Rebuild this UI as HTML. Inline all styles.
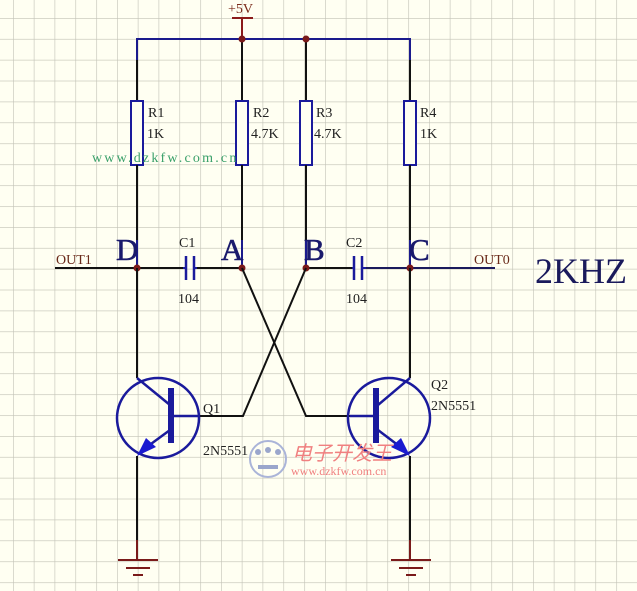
<!DOCTYPE html>
<html><head><meta charset="utf-8"><style>
html,body{margin:0;padding:0;background:#fffff2;}
svg{display:block;}
text{font-family:"Liberation Serif",serif;}
</style></head><body>
<svg width="637" height="591" viewBox="0 0 637 591" xmlns="http://www.w3.org/2000/svg">
<defs>
<pattern id="g" x="13" y="18" width="20.8" height="20.9" patternUnits="userSpaceOnUse">
<path d="M0 0 V21 M0 0 H21" stroke="#c2c2b6" stroke-width="1.2" fill="none"/>
</pattern>
</defs>
<rect width="637" height="591" fill="#fffff2"/>
<rect width="637" height="591" fill="url(#g)"/>

<text x="228" y="13" font-size="14" fill="#7a2a1a">+5V</text>
<line x1="232" y1="18" x2="253" y2="18" stroke="#8b1a1a" stroke-width="2"/>
<line x1="242" y1="18" x2="242" y2="39" stroke="#8b1a1a" stroke-width="2"/>
<polyline points="137,101 137,39 410,39 410,101" fill="none" stroke="#1a1a8c" stroke-width="2"/>
<line x1="242" y1="39" x2="242" y2="101" stroke="#111" stroke-width="2"/>
<line x1="306" y1="39" x2="306" y2="101" stroke="#111" stroke-width="2"/>
<line x1="137" y1="60" x2="137" y2="101" stroke="#111" stroke-width="2"/>
<line x1="410" y1="60" x2="410" y2="101" stroke="#111" stroke-width="2"/>
<circle cx="242" cy="39" r="3.5" fill="#7a1a1a"/>
<circle cx="306" cy="39" r="3.5" fill="#7a1a1a"/>

<g fill="#fffff2" stroke="#1a1a9c" stroke-width="2">
<rect x="131" y="101" width="12" height="64"/>
<rect x="236" y="101" width="12" height="64"/>
<rect x="300" y="101" width="12" height="64"/>
<rect x="404" y="101" width="12" height="64"/>
</g>
<g font-size="14" fill="#222">
<text x="148" y="117">R1</text><text x="147" y="138">1K</text>
<text x="253" y="117">R2</text><text x="251" y="138">4.7K</text>
<text x="316" y="117">R3</text><text x="314" y="138">4.7K</text>
<text x="420" y="117">R4</text><text x="420" y="138">1K</text>
</g>
<text x="92" y="162" font-size="14" fill="#3aa06a" letter-spacing="2.2">www.dzkfw.com.cn</text>

<g stroke="#111" stroke-width="2">
<line x1="137" y1="165" x2="137" y2="240"/>
<line x1="242" y1="165" x2="242" y2="240"/>
<line x1="306" y1="165" x2="306" y2="240"/>
<line x1="410" y1="165" x2="410" y2="240"/>
</g>
<g stroke="#1a1a8c" stroke-width="2">
<line x1="137" y1="240" x2="137" y2="268"/>
<line x1="242" y1="240" x2="242" y2="268"/>
<line x1="306" y1="240" x2="306" y2="268"/>
<line x1="410" y1="240" x2="410" y2="268"/>
</g>

<line x1="55" y1="268" x2="183" y2="268" stroke="#111" stroke-width="2"/>
<line x1="197" y1="268" x2="242" y2="268" stroke="#111" stroke-width="2"/>
<line x1="306" y1="268" x2="352" y2="268" stroke="#111" stroke-width="2"/>
<line x1="366" y1="268" x2="495" y2="268" stroke="#1a1a5c" stroke-width="2"/>
<g stroke="#1a1a9c" stroke-width="2.5">
<line x1="186" y1="256" x2="186" y2="280"/><line x1="194" y1="256" x2="194" y2="280"/>
<line x1="354" y1="256" x2="354" y2="280"/><line x1="362" y1="256" x2="362" y2="280"/>
</g>
<line x1="183" y1="268" x2="186" y2="268" stroke="#1a1a9c" stroke-width="2"/>
<line x1="194" y1="268" x2="197" y2="268" stroke="#1a1a9c" stroke-width="2"/>
<line x1="352" y1="268" x2="354" y2="268" stroke="#1a1a9c" stroke-width="2"/>
<line x1="362" y1="268" x2="366" y2="268" stroke="#1a1a9c" stroke-width="2"/>
<g font-size="14" fill="#222">
<text x="179" y="247">C1</text><text x="178" y="303">104</text>
<text x="346" y="247">C2</text><text x="346" y="303">104</text>
</g>
<text x="56" y="264" font-size="14" fill="#6a2a1a">OUT1</text>
<text x="474" y="264" font-size="14" fill="#6a2a1a">OUT0</text>
<g font-size="31" fill="#1a1a6c" stroke="#1a1a6c" stroke-width="0.6">
<text x="116" y="260">D</text><text x="221" y="260">A</text>
<text x="304" y="260">B</text><text x="409" y="260">C</text>
</g>
<text x="535" y="283" font-size="36" fill="#1a1a5c">2KHZ</text>
<g fill="#7a1a1a">
<circle cx="137" cy="268" r="3.5"/><circle cx="242" cy="268" r="3.5"/>
<circle cx="306" cy="268" r="3.5"/><circle cx="410" cy="268" r="3.5"/>
</g>

<polyline points="242,268 306,416 350,416" fill="none" stroke="#111" stroke-width="2"/>
<polyline points="306,268 243,416 200,416" fill="none" stroke="#111" stroke-width="2"/>

<line x1="137" y1="268" x2="137" y2="378" stroke="#111" stroke-width="2"/>
<line x1="410" y1="268" x2="410" y2="378" stroke="#111" stroke-width="2"/>

<g stroke="#1a1a9c" stroke-width="2.5" fill="none">
<ellipse cx="158" cy="418" rx="41" ry="40"/>
<line x1="172" y1="416" x2="200" y2="416"/>
<line x1="137" y1="378" x2="170" y2="405"/>
<line x1="170" y1="430" x2="140" y2="452"/>
</g>
<rect x="168" y="388" width="6" height="55" fill="#1a1a9c"/>
<polygon points="137,456 146,438 156,447" fill="#1a1ad0"/>
<g stroke="#1a1a9c" stroke-width="2.5" fill="none">
<ellipse cx="389" cy="418" rx="41" ry="40"/>
<line x1="350" y1="416" x2="376" y2="416"/>
<line x1="410" y1="378" x2="378" y2="405"/>
<line x1="378" y1="430" x2="407" y2="452"/>
</g>
<rect x="373" y="388" width="6" height="55" fill="#1a1a9c"/>
<polygon points="410,456 391,447 401,438" fill="#1a1ad0"/>
<text x="203" y="413" font-size="14" fill="#222">Q1</text>
<text x="203" y="455" font-size="14" fill="#222">2N5551</text>
<text x="431" y="389" font-size="14" fill="#222">Q2</text>
<text x="431" y="410" font-size="14" fill="#222">2N5551</text>

<line x1="137" y1="456" x2="137" y2="540" stroke="#111" stroke-width="2"/>
<line x1="410" y1="456" x2="410" y2="540" stroke="#111" stroke-width="2"/>
<line x1="137" y1="540" x2="137" y2="560" stroke="#7a1a1a" stroke-width="2"/>
<line x1="410" y1="540" x2="410" y2="560" stroke="#7a1a1a" stroke-width="2"/>
<g stroke="#7a1a1a" stroke-width="2">
<line x1="118" y1="560" x2="158" y2="560"/><line x1="126" y1="568" x2="150" y2="568"/><line x1="133" y1="575" x2="143" y2="575"/>
<line x1="391" y1="560" x2="431" y2="560"/><line x1="399" y1="568" x2="423" y2="568"/><line x1="406" y1="575" x2="416" y2="575"/>
</g>

<circle cx="268" cy="459" r="18" fill="none" stroke="#aab4d8" stroke-width="2"/>
<g fill="#9aa6cc"><circle cx="258" cy="452" r="3"/><circle cx="268" cy="450" r="3"/><circle cx="278" cy="452" r="3"/>
<rect x="258" y="465" width="20" height="4"/></g>
<text x="292" y="460" font-size="20" fill="#f08080" font-family="'Noto Serif CJK SC',serif" font-style="italic">电子开发王</text>
<text x="291" y="475" font-size="12" fill="#f08080" font-family="'Liberation Mono',monospace">www.dzkfw.com.cn</text>
</svg>
</body></html>
